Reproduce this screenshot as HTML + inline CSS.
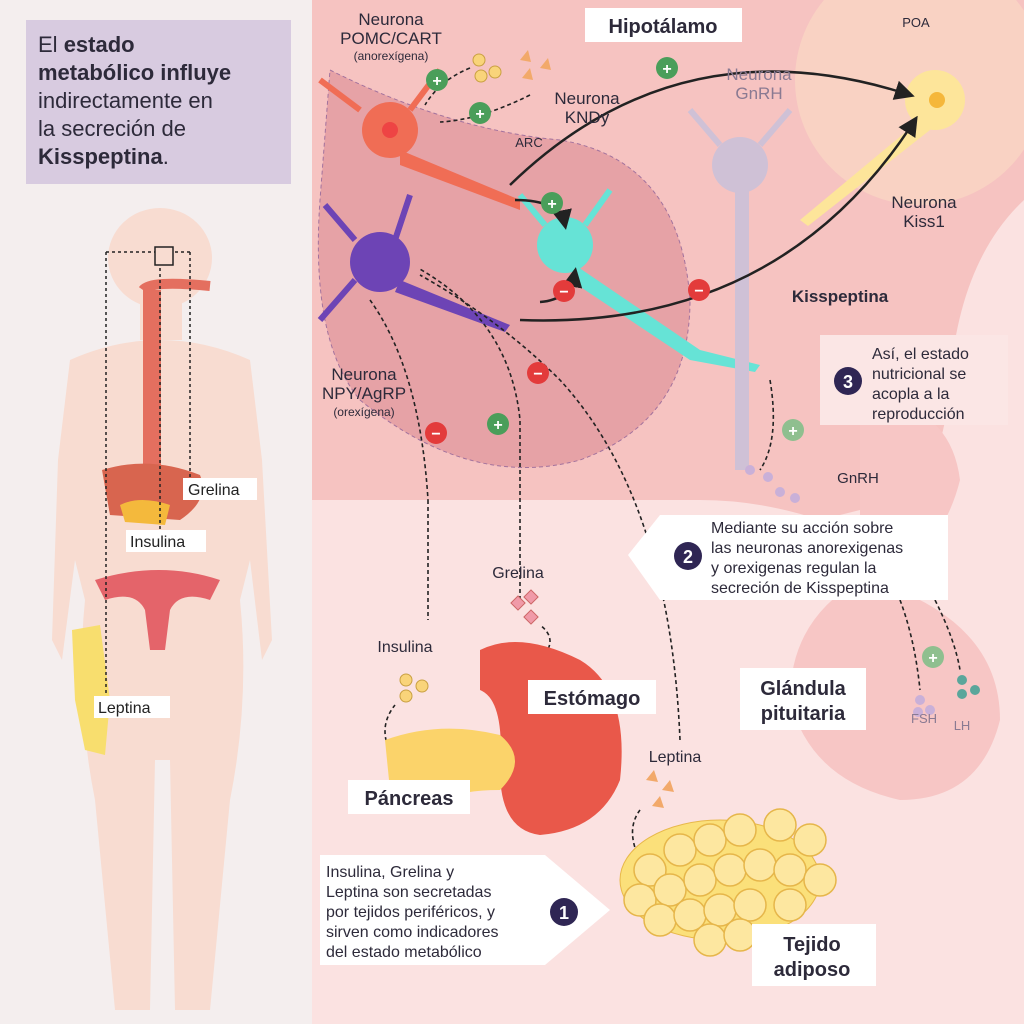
<!DOCTYPE html>
<html><head><meta charset="utf-8"><style>
body{margin:0;width:1024px;height:1024px;overflow:hidden;font-family:"Liberation Sans",sans-serif}
</style></head><body>
<svg width="1024" height="1024" viewBox="0 0 1024 1024" xmlns="http://www.w3.org/2000/svg" font-family="Liberation Sans, sans-serif">
<defs>
<marker id="ar" markerWidth="8" markerHeight="8" refX="6" refY="4" orient="auto"><path d="M0,0 L8,4 L0,8 z" fill="#222"/></marker>
</defs>
<!-- left panel -->
<rect x="0" y="0" width="312" height="1024" fill="#f4eeee"/>
<rect x="26" y="20" width="265" height="164" fill="#d8cbe0"/>
<text x="38" y="52" font-size="22" fill="#2d2a3a">El <tspan font-weight="bold">estado</tspan></text>
<text x="38" y="80" font-size="22" fill="#2d2a3a" font-weight="bold">metabólico influye</text>
<text x="38" y="108" font-size="22" fill="#2d2a3a">indirectamente en</text>
<text x="38" y="136" font-size="22" fill="#2d2a3a">la secreción de</text>
<text x="38" y="164" font-size="22" fill="#2d2a3a"><tspan font-weight="bold">Kisspeptina</tspan>.</text>
<!-- body silhouette -->
<g fill="#f8dcd1">
<ellipse cx="160" cy="258" rx="52" ry="50"/>
<rect x="140" y="290" width="42" height="50"/>
<path d="M70 360 Q160 320 250 360 L262 460 L272 640 L262 660 L250 560 L240 600 Q250 700 230 800 L210 1010 L175 1010 L170 760 L155 760 L150 1010 L115 1010 L95 800 Q75 700 85 600 L75 560 L62 660 L52 640 L58 460 Z"/>
</g>
<rect x="143" y="290" width="18" height="210" fill="#e46f5f"/>
<path d="M143 290 Q150 280 210 286" stroke="#e46f5f" stroke-width="10" fill="none"/>
<path d="M102 470 Q150 455 200 475 Q210 500 180 520 L110 515 Z" fill="#d8654f"/>
<path d="M120 505 Q140 495 170 505 L165 525 L125 522 Z" fill="#f4b93c"/>
<path d="M95 580 Q160 560 220 580 L210 600 Q180 590 170 610 L165 650 L150 650 L145 610 Q135 590 105 600 Z" fill="#e4646a"/>
<path d="M72 630 L100 625 L110 700 L105 755 L85 750 L75 700 Z" fill="#f8de6e"/>
<g fill="none" stroke="#222" stroke-width="1.5" stroke-dasharray="3,3">
<path d="M106 252 L106 700"/><path d="M106 252 L155 252"/>
<path d="M190 252 L190 488"/><path d="M175 252 L190 252"/>
<path d="M160 268 L160 540"/>
</g>
<rect x="155" y="247" width="18" height="18" fill="none" stroke="#222" stroke-width="1.5"/>
<rect x="183" y="478" width="74" height="22" fill="#fff"/><text x="188" y="495" font-size="16" fill="#222">Grelina</text>
<rect x="126" y="530" width="80" height="22" fill="#fff"/><text x="130" y="547" font-size="16" fill="#222">Insulina</text>
<rect x="94" y="696" width="76" height="22" fill="#fff"/><text x="98" y="713" font-size="16" fill="#222">Leptina</text>
<!-- right background -->
<rect x="312" y="0" width="712" height="1024" fill="#fbe2e1"/>
<path d="M312 0 H1024 V200 Q960 260 950 380 Q945 470 900 500 L820 520 Q760 500 700 500 L312 500 Z" fill="#f6c3c1"/>
<circle cx="920" cy="80" r="125" fill="#f9d2c3"/>
<path d="M312 60 Q420 150 560 160 Q680 200 700 330 Q700 440 600 470 Q480 500 340 410 L312 380 Z" fill="#e99d9d" opacity="0"/>
<path d="M330 70 Q450 130 560 140 Q680 160 690 300 Q690 420 580 460 Q470 490 360 400 Q310 340 320 200 Z" fill="#e59fa4" stroke="#9a6a9a" stroke-dasharray="4,3" opacity="0.9"/>
<path d="M860 400 Q950 400 960 480 Q940 560 870 580 Q1000 620 1000 720 Q980 800 900 800 Q810 780 790 700 Q790 620 860 580 Z" fill="#f7c6c5"/>
<!-- neurons approximations -->
<g fill="#f06d55"><circle cx="390" cy="130" r="28"/><path d="M400 150 L520 200 L520 210 L400 165 Z"/><path d="M360 110 L320 80 M410 110 L440 70" stroke="#f06d55" stroke-width="6"/></g>
<circle cx="390" cy="130" r="8" fill="#e44"/>
<g fill="#6d44b5"><circle cx="380" cy="262" r="30"/><path d="M400 280 L510 325 L505 332 L395 292 Z"/><path d="M355 240 L325 205 M395 240 L410 195 M355 280 L320 320" stroke="#6d44b5" stroke-width="6"/></g>
<g fill="#66e3d6"><circle cx="565" cy="245" r="28"/><path d="M575 265 L700 350 L760 365 L755 372 L690 360 L570 280 Z"/><path d="M545 225 L520 195 M585 225 L610 190" stroke="#66e3d6" stroke-width="6"/></g>
<g fill="#cfc1d6"><circle cx="740" cy="165" r="28"/><rect x="735" y="180" width="14" height="290"/><path d="M720 145 L690 110 M760 145 L790 110" stroke="#cfc1d6" stroke-width="6"/></g>
<g fill="#fde59a"><circle cx="935" cy="100" r="30"/><path d="M920 120 L800 220 L808 226 L930 130 Z"/></g>
<circle cx="937" cy="100" r="8" fill="#f5b73a"/>
<!-- arrows -->
<g fill="none" stroke="#222" stroke-width="2.5">
<path d="M510 185 Q680 20 910 95" marker-end="url(#ar)"/>
<path d="M520 320 Q780 330 915 120" marker-end="url(#ar)"/>
<path d="M515 200 Q560 200 565 225" marker-end="url(#ar)"/>
<path d="M540 302 Q570 300 575 272" marker-end="url(#ar)"/>
</g>
<g fill="none" stroke="#222" stroke-width="1.6" stroke-dasharray="4,3">
<path d="M470 68 Q440 80 425 105"/><path d="M530 95 Q480 120 440 122"/>
<path d="M428 500 L428 620"/><path d="M370 300 Q420 370 428 500"/>
<path d="M520 600 L520 420 Q510 320 418 268"/>
<path d="M680 740 Q670 500 560 380 Q500 320 420 275"/>
<path d="M770 380 Q780 440 760 470"/>
<path d="M540 660 Q560 640 540 625"/>
<path d="M395 760 Q375 730 395 705"/>
<path d="M640 860 Q625 830 640 810"/>
<path d="M900 600 Q915 640 920 690"/><path d="M935 600 Q955 640 960 670"/>
</g>
<g font-weight="bold" font-size="16" fill="#fff" text-anchor="middle">
<circle cx="437" cy="80" r="11" fill="#4a9e5a"/><text x="437" y="86">+</text>
<circle cx="480" cy="113" r="11" fill="#4a9e5a"/><text x="480" y="119">+</text>
<circle cx="667" cy="68" r="11" fill="#4a9e5a"/><text x="667" y="74">+</text>
<circle cx="552" cy="203" r="11" fill="#4a9e5a"/><text x="552" y="209">+</text>
<circle cx="498" cy="424" r="11" fill="#4a9e5a"/><text x="498" y="430">+</text>
<circle cx="793" cy="430" r="11" fill="#8fbf8f"/><text x="793" y="436">+</text>
<circle cx="933" cy="657" r="11" fill="#8fbf8f"/><text x="933" y="663">+</text>
<circle cx="564" cy="291" r="11" fill="#e33b3b"/><text x="564" y="297">−</text>
<circle cx="699" cy="290" r="11" fill="#e33b3b"/><text x="699" y="296">−</text>
<circle cx="538" cy="373" r="11" fill="#e33b3b"/><text x="538" y="379">−</text>
<circle cx="436" cy="433" r="11" fill="#e33b3b"/><text x="436" y="439">−</text>
</g>
<g fill="#f9d47a" stroke="#c9a042"><circle cx="479" cy="60" r="6"/><circle cx="495" cy="72" r="6"/><circle cx="481" cy="76" r="6"/>
<circle cx="406" cy="680" r="6"/><circle cx="422" cy="686" r="6"/><circle cx="406" cy="696" r="6"/></g>
<g fill="#f2a96a"><path d="M520 60 l8 -10 l3 12 z M540 68 l8 -10 l3 12 z M522 78 l8 -10 l3 12z M646 780 l8 -10 l4 12z M662 790 l8 -10 l4 12z M652 806 l8 -10 l4 12z"/></g>
<g fill="#f09aa8" stroke="#c66"><rect x="513" y="598" width="10" height="10" transform="rotate(45 518 603)"/><rect x="526" y="592" width="10" height="10" transform="rotate(45 531 597)"/><rect x="526" y="612" width="10" height="10" transform="rotate(45 531 617)"/></g>
<!-- organs -->
<path d="M480 650 Q520 630 580 660 Q630 690 620 780 Q600 830 540 835 Q500 830 500 770 Q505 700 480 690 Z" fill="#e9584a"/>
<path d="M385 740 Q440 720 500 735 Q530 760 500 790 Q460 790 450 800 Q420 820 390 790 Z" fill="#fbd36a"/>
<g fill="#fbe07a" stroke="#e8b84a">
<ellipse cx="720" cy="880" rx="100" ry="60"/>
</g>
<g fill="#fde7a0" stroke="#e6b64a" stroke-width="1.5">
<circle cx="650" cy="870" r="16"/><circle cx="680" cy="850" r="16"/><circle cx="710" cy="840" r="16"/><circle cx="740" cy="830" r="16"/><circle cx="780" cy="825" r="16"/><circle cx="810" cy="840" r="16"/>
<circle cx="640" cy="900" r="16"/><circle cx="670" cy="890" r="16"/><circle cx="700" cy="880" r="16"/><circle cx="730" cy="870" r="16"/><circle cx="760" cy="865" r="16"/><circle cx="790" cy="870" r="16"/><circle cx="820" cy="880" r="16"/>
<circle cx="660" cy="920" r="16"/><circle cx="690" cy="915" r="16"/><circle cx="720" cy="910" r="16"/><circle cx="750" cy="905" r="16"/><circle cx="790" cy="905" r="16"/><circle cx="710" cy="940" r="16"/><circle cx="740" cy="935" r="16"/>
</g>
<g fill="#c9b0d8"><circle cx="750" cy="470" r="5"/><circle cx="768" cy="477" r="5"/><circle cx="780" cy="492" r="5"/><circle cx="795" cy="498" r="5"/>
<circle cx="920" cy="700" r="5"/><circle cx="930" cy="710" r="5"/><circle cx="918" cy="712" r="5"/></g>
<g fill="#5aa69b"><circle cx="962" cy="680" r="5"/><circle cx="975" cy="690" r="5"/><circle cx="962" cy="694" r="5"/></g>
<!-- labels -->
<g fill="#2d2a3a" text-anchor="middle">
<text x="391" y="25" font-size="17">Neurona</text><text x="391" y="44" font-size="17">POMC/CART</text><text x="391" y="60" font-size="12">(anorexígena)</text>
<text x="587" y="104" font-size="17">Neurona</text><text x="587" y="123" font-size="17">KNDy</text>
<text x="529" y="147" font-size="13">ARC</text>
<text x="759" y="80" font-size="17" fill="#8a7a92">Neurona</text><text x="759" y="99" font-size="17" fill="#8a7a92">GnRH</text>
<text x="916" y="27" font-size="13">POA</text>
<text x="924" y="208" font-size="17">Neurona</text><text x="924" y="227" font-size="17">Kiss1</text>
<text x="364" y="380" font-size="17">Neurona</text><text x="364" y="399" font-size="17">NPY/AgRP</text><text x="364" y="416" font-size="12">(orexígena)</text>
<text x="840" y="302" font-size="17" font-weight="bold">Kisspeptina</text>
<text x="858" y="483" font-size="15">GnRH</text>
<text x="518" y="578" font-size="16">Grelina</text>
<text x="405" y="652" font-size="16">Insulina</text>
<text x="675" y="762" font-size="16">Leptina</text>
<text x="924" y="723" font-size="13" fill="#8a7a92">FSH</text>
<text x="962" y="730" font-size="13" fill="#8a7a92">LH</text>
</g>
<rect x="585" y="8" width="157" height="34" fill="#fff"/><text x="663" y="33" font-size="20" text-anchor="middle" font-weight="bold" fill="#2d2a3a">Hipotálamo</text>
<rect x="820" y="335" width="188" height="90" fill="#fbe6e5"/>
<circle cx="848" cy="381" r="14" fill="#2f2654"/><text x="848" y="388" font-size="18" fill="#fff" text-anchor="middle" font-weight="bold">3</text>
<g font-size="16" fill="#2d2a3a"><text x="872" y="359">Así, el estado</text><text x="872" y="379">nutricional se</text><text x="872" y="399">acopla a la</text><text x="872" y="419">reproducción</text></g>
<path d="M628 555 L660 515 H948 V600 H660 Z" fill="#fff"/>
<circle cx="688" cy="556" r="14" fill="#2f2654"/><text x="688" y="563" font-size="18" fill="#fff" text-anchor="middle" font-weight="bold">2</text>
<g font-size="16" fill="#2d2a3a"><text x="711" y="533">Mediante su acción sobre</text><text x="711" y="553">las neuronas anorexigenas</text><text x="711" y="573">y orexigenas regulan la</text><text x="711" y="593">secreción de Kisspeptina</text></g>
<path d="M320 855 H545 L610 910 L545 965 H320 Z" fill="#fff"/>
<circle cx="564" cy="912" r="14" fill="#2f2654"/><text x="564" y="919" font-size="18" fill="#fff" text-anchor="middle" font-weight="bold">1</text>
<g font-size="16" fill="#2d2a3a"><text x="326" y="877">Insulina, Grelina y</text><text x="326" y="897">Leptina son secretadas</text><text x="326" y="917">por tejidos periféricos, y</text><text x="326" y="937">sirven como indicadores</text><text x="326" y="957">del estado metabólico</text></g>
<rect x="740" y="668" width="126" height="62" fill="#fff"/><text x="803" y="695" font-size="20" text-anchor="middle" font-weight="bold" fill="#2d2a3a">Glándula</text><text x="803" y="720" font-size="20" text-anchor="middle" font-weight="bold" fill="#2d2a3a">pituitaria</text>
<rect x="528" y="680" width="128" height="34" fill="#fff"/><text x="592" y="705" font-size="20" text-anchor="middle" font-weight="bold" fill="#2d2a3a">Estómago</text>
<rect x="348" y="780" width="122" height="34" fill="#fff"/><text x="409" y="805" font-size="20" text-anchor="middle" font-weight="bold" fill="#2d2a3a">Páncreas</text>
<rect x="752" y="924" width="124" height="62" fill="#fff"/><text x="812" y="951" font-size="20" text-anchor="middle" font-weight="bold" fill="#2d2a3a">Tejido</text><text x="812" y="976" font-size="20" text-anchor="middle" font-weight="bold" fill="#2d2a3a">adiposo</text>
</svg>
</body></html>
